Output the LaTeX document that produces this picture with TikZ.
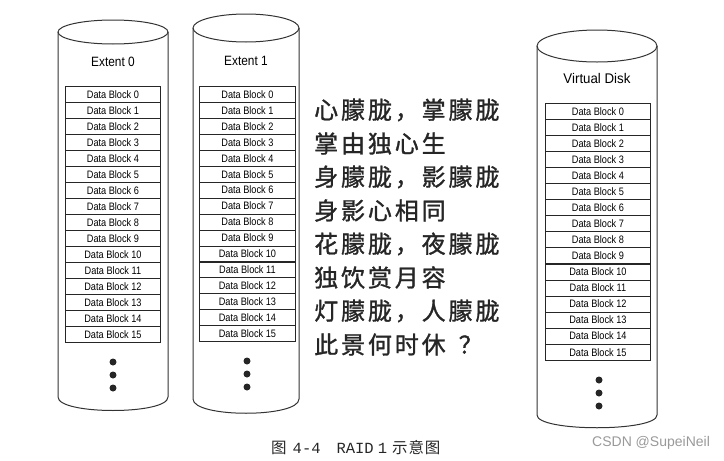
\documentclass[tikz,border=0pt]{standalone}
\usepackage{fontspec}
\setmainfont{Liberation Sans}
\newfontfamily\cjk{Noto Sans CJK SC}
\newfontfamily\cjkcap[LetterSpace=6]{Noto Sans CJK SC}
\newfontfamily\cjksp[LetterSpace=12, FakeBold=1.2]{Noto Sans CJK SC}
\newfontfamily\capmono{Liberation Mono}
\begin{document}
\begin{tikzpicture}[x=1pt,y=-1pt,
  cylline/.style={draw=black!80, line width=1pt},
  blockbox/.style={draw=black!85, line width=0.8pt, minimum height=16pt, inner sep=0pt, anchor=north west,
    font=\fontsize{10.8}{10.8}\selectfont},
  disklabel/.style={inner sep=0pt},
  dotnode/.style={circle, fill=black!85, minimum size=7pt, inner sep=0pt},
  poem/.style={anchor=west, inner sep=0pt, font=\cjksp\fontsize{24}{24}\selectfont, text=black!85}]
\useasboundingbox (0,0) rectangle (724,461);
% cylinder Extent 0
\draw[cylline] (113,32) ellipse [x radius=55, y radius=12];
\draw[cylline] (58,32) -- (58,397) .. controls (58,415) and (168,415) .. (168,397) -- (168,32);
\node[disklabel] (ext0) at (113,62) {\fontsize{13.5}{13.5}\selectfont\scalebox{0.88}[1]{Extent 0}};
\foreach \i in {0,...,15}{
  \node[blockbox, minimum width=95pt] (e0b\i) at (65,{86+16*\i}) {\scalebox{0.85}[1]{Data Block \i}};
}
\node[dotnode] (e0d1) at (113,362) {};
\node[dotnode] (e0d2) at (113,375) {};
\node[dotnode] (e0d3) at (113,388) {};
% cylinder Extent 1
\draw[cylline] (246,28) ellipse [x radius=53, y radius=14];
\draw[cylline] (193,28) -- (193,399) .. controls (193,418) and (299,418) .. (299,399) -- (299,28);
\node[disklabel] (ext1) at (246,61) {\fontsize{13.5}{13.5}\selectfont\scalebox{0.88}[1]{Extent 1}};
\foreach \i in {0,...,15}{
  \node[blockbox, minimum width=96pt] (e1b\i) at (199,{86+15.95*\i}) {\scalebox{0.85}[1]{Data Block \i}};
}
\node[dotnode] (e1d1) at (247,361) {};
\node[dotnode] (e1d2) at (247,374) {};
\node[dotnode] (e1d3) at (247,387) {};
% cylinder Virtual Disk
\draw[cylline] (597,46) ellipse [x radius=60, y radius=16];
\draw[cylline] (537,46) -- (537,415) .. controls (537,432) and (657,432) .. (657,415) -- (657,46);
\node[disklabel] (vdl) at (597,78) {\fontsize{14}{14}\selectfont\scalebox{0.95}[1]{Virtual Disk}};
\foreach \i in {0,...,15}{
  \node[blockbox, minimum width=105pt] (vdb\i) at (545,{103+16.05*\i}) {\scalebox{0.85}[1]{Data Block \i}};
}
\node[dotnode] (vdd1) at (599,380) {};
\node[dotnode] (vdd2) at (599,393) {};
\node[dotnode] (vdd3) at (599,406) {};
% poem
\node[poem] (p1) at (314,110) {心朦胧，掌朦胧};
\node[poem] (p2) at (314,143.5) {掌由独心生};
\node[poem] (p3) at (314,177) {身朦胧，影朦胧};
\node[poem] (p4) at (314,210.5) {身影心相同};
\node[poem] (p5) at (314,244) {花朦胧，夜朦胧};
\node[poem] (p6) at (314,277.5) {独饮赏月容};
\node[poem] (p7) at (314,311) {灯朦胧，人朦胧};
\node[poem] (p8) at (314,344.5) {此景何时休\hspace{13pt}？};
% caption
\node[anchor=west, inner sep=0pt, text=black!85] (cap) at (271,448)
  {\fontsize{15.5}{15.5}\selectfont{\cjk 图}\hspace{6pt}{\capmono 4-4}\hspace{16pt}{\capmono RAID}\hspace{4pt}{\capmono 1}\hspace{5pt}{\cjkcap 示意图}};
% watermark
\node[anchor=west, inner sep=0pt, text=black!40, font=\fontsize{14}{14}\selectfont] (wm) at (592,443) {CSDN @SupeiNeil};
\end{tikzpicture}
\end{document}
